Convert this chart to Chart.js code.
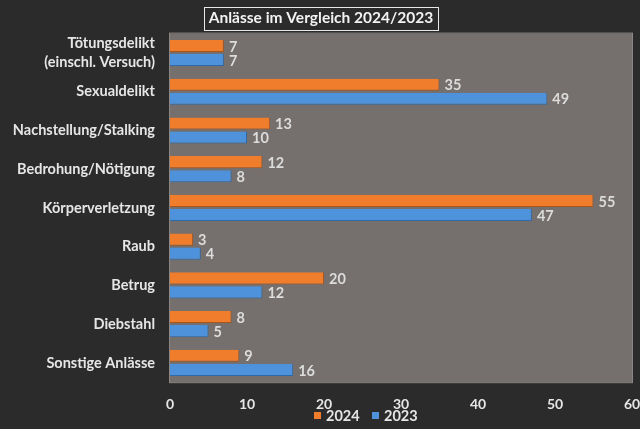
<!DOCTYPE html>
<html>
<head>
<meta charset="utf-8">
<script src="https://cdn.jsdelivr.net/npm/chart.js@4/dist/chart.umd.min.js"></script>
<style>
  html, body { margin: 0; padding: 0; background: #2b2b2b; }
  #wrap { width: 640px; height: 429px; position: relative; }
</style>
</head>
<body>
<div id="wrap"><canvas id="c" width="640" height="429"></canvas></div>
<script>
const titleText = 'Anlässe im Vergleich 2024/2023';
const categories = [
  ['Tötungsdelikt', '(einschl. Versuch)'],
  'Sexualdelikt',
  'Nachstellung/Stalking',
  'Bedrohung/Nötigung',
  'Körperverletzung',
  'Raub',
  'Betrug',
  'Diebstahl',
  'Sonstige Anlässe'
];
const seriesNames = ['2024', '2023'];
const values2024 = [7, 35, 13, 12, 55, 3, 20, 8, 9];
const values2023 = [7, 49, 10, 8, 47, 4, 12, 5, 16];
const xTicks = [0, 10, 20, 30, 40, 50, 60];

const FONT = 'Lato, "Open Sans", sans-serif';
const colors = ['#f07d2c', '#4d92da'];
const edge = ['#a9541a', '#2f6aa8'];

const plotBg = {
  id: 'plotBg',
  beforeDraw(chart) {
    const { ctx, chartArea: a } = chart;
    ctx.save();
    ctx.fillStyle = '#756f6d';
    ctx.fillRect(a.left, a.top, a.right - a.left, a.bottom - a.top);
    ctx.strokeStyle = '#8c8785';
    ctx.lineWidth = 1;
    ctx.strokeRect(a.left - 0.5, a.top - 0.5, a.right - a.left + 1, a.bottom - a.top + 1);
    ctx.restore();
  }
};

const extras = {
  id: 'extras',
  afterDatasetsDraw(chart) {
    const { ctx } = chart;
    ctx.save();
    ctx.font = 'bold 14.5px ' + FONT;
    ctx.fillStyle = '#dcdcdc';
    ctx.textBaseline = 'middle';
    ctx.textAlign = 'left';
    chart.data.datasets.forEach((ds, i) => {
      chart.getDatasetMeta(i).data.forEach((bar, j) => {
        ctx.fillText(String(ds.data[j]), bar.x + 5, bar.y + 1);
      });
    });
    ctx.restore();
  },
  afterDraw(chart) {
    const { ctx } = chart;
    const t = chart.titleBlock;
    ctx.save();
    ctx.font = 'bold 15.5px ' + FONT;
    const w = ctx.measureText(titleText).width;
    const cx = (t.left + t.right) / 2;
    ctx.strokeStyle = '#e8e8e8';
    ctx.lineWidth = 1;
    ctx.strokeRect(Math.round(cx - w / 2 - 5) + 0.5, 7.5, Math.round(w + 10), 23);
    const items = [{ t: seriesNames[0], c: colors[0], x: 314 }, { t: seriesNames[1], c: colors[1], x: 372 }];
    ctx.font = 'bold 14.5px ' + FONT;
    ctx.textBaseline = 'middle';
    ctx.textAlign = 'left';
    items.forEach(it => {
      ctx.fillStyle = it.c;
      ctx.fillRect(it.x, 412, 7, 7);
      ctx.fillStyle = '#e6e6e6';
      ctx.fillText(it.t, it.x + 12, 416.5);
    });
    ctx.restore();
  }
};

new Chart(document.getElementById('c'), {
  type: 'bar',
  data: {
    labels: categories,
    datasets: [
      { label: seriesNames[0], data: values2024, backgroundColor: colors[0], borderColor: edge[0],
        borderWidth: { top: 0, right: 1, bottom: 1, left: 0 }, borderSkipped: false,
        categoryPercentage: 0.725, barPercentage: 0.86 },
      { label: seriesNames[1], data: values2023, backgroundColor: colors[1], borderColor: edge[1],
        borderWidth: { top: 0, right: 1, bottom: 1, left: 0 }, borderSkipped: false,
        categoryPercentage: 0.725, barPercentage: 0.86 }
    ]
  },
  options: {
    indexAxis: 'y',
    responsive: false,
    animation: false,
    layout: { padding: { left: 10, right: 8, top: 0, bottom: 2 } },
    plugins: {
      legend: { display: false },
      tooltip: { enabled: false },
      title: {
        display: true, text: titleText, color: '#f2f2f2',
        font: { family: FONT, size: 15.5, weight: 'bold' },
        padding: { top: 9, bottom: 6 },
        align: 'center'
      }
    },
    scales: {
      x: {
        min: 0, max: 60,
        afterBuildTicks(s) { s.ticks = xTicks.map(v => ({ value: v })); },
        afterFit(s) { s.paddingLeft = 0; s.paddingRight = 0; },
        grid: { display: false, drawTicks: false },
        border: { display: false },
        ticks: { color: '#e6e6e6', padding: 14, maxRotation: 0, autoSkip: false,
                 font: { family: FONT, size: 14, weight: 'bold' } }
      },
      y: {
        afterFit(s) { s.width = 160; },
        grid: { display: false, drawTicks: false },
        border: { display: false },
        ticks: { color: '#e6e6e6', padding: 15, autoSkip: false,
                 font: { family: FONT, size: 14.5, weight: 'bold', lineHeight: 1.35 } }
      }
    }
  },
  plugins: [plotBg, extras]
});
</script>
</body>
</html>
